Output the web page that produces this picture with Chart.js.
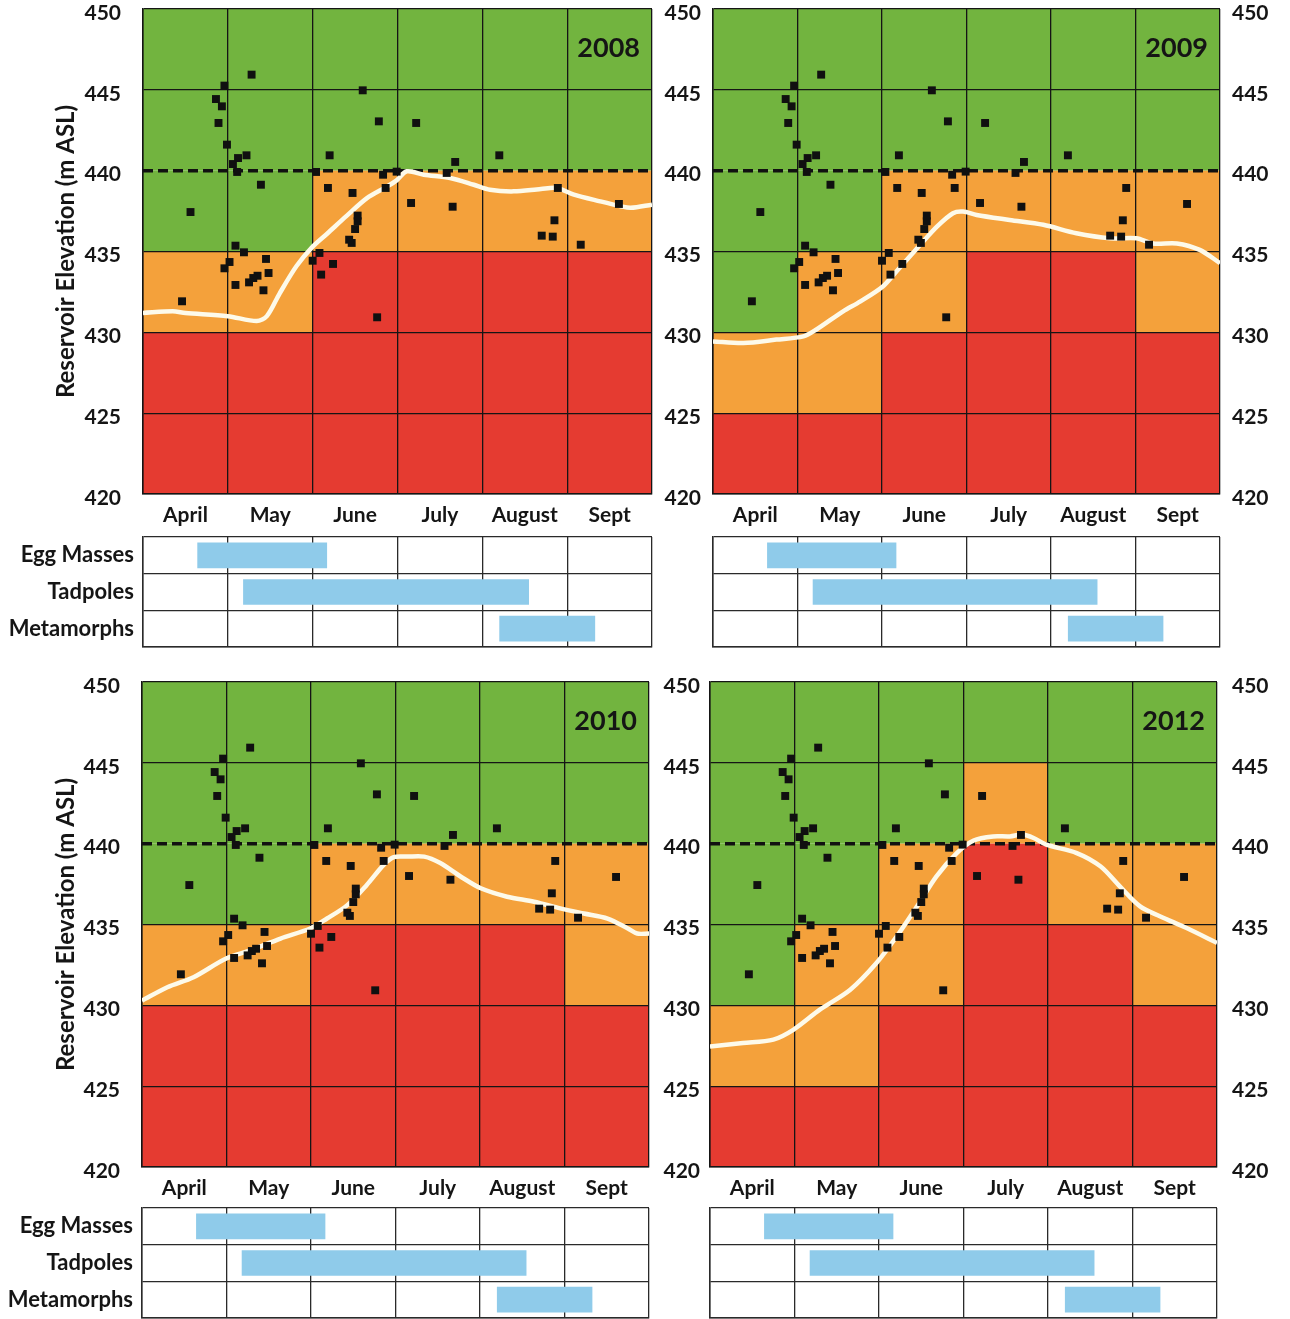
<!DOCTYPE html>
<html>
<head>
<meta charset="utf-8">
<script src="https://cdn.jsdelivr.net/npm/chart.js@4.4.1/dist/chart.umd.min.js"></script>
<style>
  body { margin: 0; background: #fff; width: 1290px; height: 1319px; position: relative; overflow: hidden; }
  canvas { position: absolute; }
</style>
</head>
<body>
<canvas id="p2008" width="660" height="535" style="left:0;top:0"></canvas>
<canvas id="p2009" width="630" height="535" style="left:660px;top:0"></canvas>
<canvas id="t2008" width="660" height="125" style="left:0;top:530px"></canvas>
<canvas id="t2009" width="630" height="125" style="left:660px;top:530px"></canvas>
<canvas id="p2010" width="660" height="535" style="left:0;top:673px"></canvas>
<canvas id="p2012" width="630" height="535" style="left:660px;top:673px"></canvas>
<canvas id="t2010" width="660" height="125" style="left:0;top:1201px"></canvas>
<canvas id="t2012" width="630" height="125" style="left:660px;top:1201px"></canvas>
<script>
// months on the x axis (0 = start of April, 6 = end of September)
const months = ['April', 'May', 'June', 'July', 'August', 'Sept'];
const elevMin = 420;
const elevMax = 450;
const elevStep = 5;
const threshold = 440;

// life stages and when they occur (month position)
const stages = ['Egg Masses', 'Tadpoles', 'Metamorphs'];
const stageStart = [0.64, 1.18, 4.20];
const stageEnd = [2.17, 4.55, 5.33];

// egg mass / breeding site records: month position and elevation
const surveyX = [1.28, 0.96, 0.86, 0.93, 0.89, 0.99, 1.12, 1.22, 1.06, 1.11, 1.39, 0.56,
  1.09, 1.19, 1.45, 1.02, 0.96, 1.48, 1.35, 1.30, 1.25, 1.09, 1.42, 0.46,
  2.59, 2.78, 3.22, 2.20, 4.20, 3.68, 2.04, 2.83, 2.99, 3.58, 2.18, 2.47,
  2.86, 4.89, 3.16, 3.65, 5.61, 2.53, 2.53, 2.50, 4.85, 2.43, 2.46, 4.70,
  4.83, 5.16, 2.08, 2.00, 2.24, 2.10, 2.76];
const surveyY = [445.94, 445.26, 444.43, 443.98, 442.95, 441.61, 440.78, 440.95, 440.41, 439.92, 439.13, 437.44,
  435.36, 434.95, 434.54, 434.35, 433.96, 433.67, 433.50, 433.36, 433.09, 432.93, 432.60, 431.92,
  444.97, 443.05, 442.95, 440.95, 440.95, 440.54, 439.92, 439.75, 439.94, 439.86, 438.93, 438.62,
  438.93, 438.93, 438.00, 437.77, 437.94, 437.22, 436.87, 436.39, 436.93, 435.73, 435.53, 435.98,
  435.92, 435.42, 434.91, 434.43, 434.23, 433.57, 430.93];

// reservoir elevation through the season, per year
const res2008X = [0, 0.35, 0.5, 1.0, 1.34, 1.46, 1.61, 1.81, 2.0, 2.17, 2.4, 2.64, 2.87, 2.99, 3.11, 3.31, 3.62, 3.9, 4.09, 4.37, 4.69, 4.88, 5.08, 5.39, 5.63, 5.75, 6.0];
const res2008Y = [431.2, 431.3, 431.2, 431.0, 430.7, 431.0, 432.4, 434.1, 435.3, 436.1, 437.2, 438.3, 439.0, 439.4, 439.96, 439.75, 439.55, 439.13, 438.82, 438.72, 438.87, 438.93, 438.52, 438.1, 437.8, 437.7, 437.9];
const res2009X = [0, 0.36, 0.75, 1.07, 1.22, 1.54, 1.74, 2.01, 2.17, 2.45, 2.65, 2.84, 2.96, 3.12, 3.51, 3.91, 4.3, 4.7, 5.01, 5.21, 5.49, 5.76, 6.0];
const res2009Y = [429.44, 429.34, 429.55, 429.75, 430.16, 431.3, 431.9, 432.84, 433.77, 435.4, 436.54, 437.37, 437.47, 437.26, 436.95, 436.65, 436.13, 435.82, 435.82, 435.5, 435.5, 435.1, 434.28];
const res2010X = [0, 0.3, 0.61, 0.99, 1.28, 1.64, 1.99, 2.19, 2.43, 2.66, 2.86, 2.98, 3.14, 3.34, 3.53, 3.77, 4.01, 4.32, 4.64, 4.95, 5.23, 5.51, 5.75, 5.86, 6.0];
const res2010Y = [430.29, 431.12, 431.74, 432.88, 433.4, 434.13, 434.75, 435.37, 436.2, 437.45, 438.69, 439.17, 439.2, 439.2, 438.8, 437.97, 437.24, 436.72, 436.41, 436.0, 435.68, 435.37, 434.75, 434.44, 434.44];
const res2012X = [0, 0.39, 0.75, 0.99, 1.3, 1.66, 1.97, 2.21, 2.45, 2.68, 2.92, 3.12, 3.35, 3.55, 3.69, 3.83, 3.98, 4.34, 4.62, 4.85, 5.09, 5.33, 5.64, 6.0];
const res2012Y = [427.46, 427.67, 427.88, 428.5, 429.73, 430.97, 432.62, 434.27, 436.12, 437.98, 439.42, 440.2, 440.45, 440.45, 440.56, 440.35, 439.94, 439.42, 438.6, 437.36, 436.12, 435.5, 434.78, 433.86];

// risk class per month and 5 m band, top band (445-450) first: G = low, O = moderate, R = high
const risk2008 = ['GGGGGG', 'GGGGGG', 'GGOOOO', 'OORRRR', 'RRRRRR', 'RRRRRR'];
const risk2009 = ['GGGGGG', 'GGGGGG', 'GGOOOO', 'GOORRO', 'OORRRR', 'RRRRRR'];
const risk2010 = ['GGGGGG', 'GGGGGG', 'GGOOOO', 'OORRRO', 'RRRRRR', 'RRRRRR'];
const risk2012 = ['GGGGGG', 'GGGOGG', 'GGOROO', 'GOORRO', 'OORRRR', 'RRRRRR'];

const riskColors = { G: '#72b43f', O: '#f4a13b', R: '#e53b31' };
const ink = '#151515';
const fontFamily = 'Lato, "Open Sans", sans-serif';

Chart.defaults.font.family = fontFamily;
Chart.defaults.color = ink;

const halfTicks = [];
for (let i = 0; i <= months.length * 2; i++) halfTicks.push(i / 2);

function toPoints(xs, ys) {
  return xs.map((x, i) => ({ x: x, y: ys[i] }));
}

// fixed axis sizes so every panel lines up; drop the label overhang padding
function fixWidth(w) {
  return (axis) => { axis.width = w; axis.paddingTop = 0; axis.paddingBottom = 0; };
}
function fixHeight(h) {
  return (axis) => { axis.height = h; axis.paddingLeft = 0; axis.paddingRight = 0; };
}

function makePanel(id, year, risk, resX, resY, box) {
  // colored cells go under the grid lines, so draw them before the scales
  const cellPlugin = {
    id: 'riskCells',
    beforeDraw(chart) {
      const ctx = chart.ctx;
      const xs = chart.scales.x;
      const ys = chart.scales.y;
      ctx.save();
      risk.forEach((row, r) => {
        const top = ys.getPixelForValue(elevMax - r * elevStep);
        const bottom = ys.getPixelForValue(elevMax - (r + 1) * elevStep);
        for (let c = 0; c < row.length; c++) {
          const left = xs.getPixelForValue(c);
          const right = xs.getPixelForValue(c + 1);
          ctx.fillStyle = riskColors[row[c]];
          ctx.fillRect(left, top, right - left, bottom - top);
        }
      });
      ctx.restore();
    }
  };
  const yearPlugin = {
    id: 'yearLabel',
    afterDraw(chart) {
      const ctx = chart.ctx;
      const a = chart.chartArea;
      ctx.save();
      ctx.font = 'bold 27px ' + fontFamily;
      ctx.fillStyle = ink;
      ctx.textAlign = 'right';
      ctx.textBaseline = 'middle';
      ctx.fillText(year, a.right - 12, a.top + 39);
      ctx.restore();
    }
  };

  const tickFont = { size: 21, weight: 'bold' };
  const scales = {
    x: {
      type: 'linear', min: 0, max: months.length,
      afterBuildTicks: (axis) => { axis.ticks = halfTicks.map(v => ({ value: v })); },
      afterFit: fixHeight(41),
      grid: {
        drawTicks: false, lineWidth: 1.3,
        color: (c) => (c.tick && Number.isInteger(c.tick.value)) ? ink : 'rgba(0,0,0,0)'
      },
      border: { color: ink, width: 1.5 },
      ticks: {
        autoSkip: false, maxRotation: 0, padding: 9, font: { size: 21, weight: 'bold' }, color: ink,
        callback: (v) => Number.isInteger(v) ? '' : months[Math.floor(v)]
      }
    },
    y: {
      type: 'linear', min: elevMin, max: elevMax,
      afterFit: fixWidth(box.leftWidth),
      grid: {
        drawTicks: false, lineWidth: 1.3,
        // the threshold level gets its own dashed line instead of a grid line
        color: (c) => (c.tick && c.tick.value === threshold) ? 'rgba(0,0,0,0)' : ink
      },
      border: { color: ink, width: 1.5 },
      ticks: { stepSize: elevStep, padding: box.leftPad, labelOffset: 4, font: tickFont, color: ink },
      title: {
        display: !!box.title, text: 'Reservoir Elevation (m ASL)',
        font: { size: 24, weight: 'bold' }, color: ink, padding: { top: 52, bottom: 0 }
      }
    }
  };
  if (box.rightWidth) {
    scales.y2 = {
      type: 'linear', position: 'right', min: elevMin, max: elevMax,
      afterFit: fixWidth(box.rightWidth),
      grid: { display: false, drawTicks: false },
      border: { display: false },
      ticks: { stepSize: elevStep, padding: box.rightPad, labelOffset: 4, font: tickFont, color: ink }
    };
  }

  return new Chart(document.getElementById(id), {
    type: 'scatter',
    data: {
      datasets: [
        {
          label: 'Records',
          data: toPoints(surveyX, surveyY),
          pointStyle: 'rect', pointRadius: 5.6,
          backgroundColor: '#101010', borderColor: '#101010', borderWidth: 0,
          order: 0
        },
        {
          type: 'line', label: 'Reservoir',
          data: toPoints(resX, resY),
          borderColor: '#fdfaea', borderWidth: 4.5, pointRadius: 0, tension: 0.3,
          order: 1
        },
        {
          type: 'line', label: 'Threshold',
          data: [{ x: 0, y: threshold }, { x: months.length, y: threshold }],
          borderColor: '#111', borderWidth: 3.5, borderDash: [10, 5], pointRadius: 0,
          order: 2
        }
      ]
    },
    options: {
      responsive: false,
      animation: false,
      events: [],
      layout: { autoPadding: false, padding: { top: box.top, right: box.right, left: 0, bottom: 0 } },
      plugins: { legend: { display: false }, tooltip: { enabled: false } },
      scales: scales
    },
    plugins: [cellPlugin, yearPlugin]
  });
}

function makeStages(id, box) {
  return new Chart(document.getElementById(id), {
    type: 'bar',
    data: {
      labels: stages,
      datasets: [{
        data: stageStart.map((s, i) => [s, stageEnd[i]]),
        backgroundColor: '#8fcbea',
        barPercentage: 0.7,
        categoryPercentage: 1
      }]
    },
    options: {
      indexAxis: 'y',
      responsive: false,
      animation: false,
      events: [],
      layout: { autoPadding: false, padding: { top: 7, right: box.right, left: 0, bottom: 0 } },
      plugins: { legend: { display: false }, tooltip: { enabled: false } },
      scales: {
        x: {
          type: 'linear', min: 0, max: months.length,
          afterFit: fixHeight(8),
          grid: { drawTicks: false, color: '#2a2a2a', lineWidth: 1.3 },
          border: { color: '#2a2a2a', width: 1.5 },
          ticks: { stepSize: 1, display: false }
        },
        y: {
          afterFit: fixWidth(box.leftWidth),
          grid: { drawTicks: false, offset: true, color: '#2a2a2a', lineWidth: 1.3 },
          border: { color: '#2a2a2a', width: 1.5 },
          ticks: { display: box.labels, padding: 9, font: { size: 22, weight: 'bold' }, color: ink }
        }
      }
    }
  });
}

const leftBox = { top: 9, right: 8, leftWidth: 143, leftPad: 22, title: true };
const rightBox = { top: 9, right: 0, leftWidth: 53, leftPad: 12, rightWidth: 70, rightPad: 12 };
const leftBoxLow = { top: 9, right: 11, leftWidth: 142, leftPad: 22, title: true };
const rightBoxLow = { top: 9, right: 0, leftWidth: 50, leftPad: 10, rightWidth: 73, rightPad: 15 };

makePanel('p2008', '2008', risk2008, res2008X, res2008Y, leftBox);
makePanel('p2009', '2009', risk2009, res2009X, res2009Y, rightBox);
makePanel('p2010', '2010', risk2010, res2010X, res2010Y, leftBoxLow);
makePanel('p2012', '2012', risk2012, res2012X, res2012Y, rightBoxLow);

makeStages('t2008', { right: 8, leftWidth: 143, labels: true });
makeStages('t2009', { right: 70, leftWidth: 53, labels: false });
makeStages('t2010', { right: 11, leftWidth: 142, labels: true });
makeStages('t2012', { right: 73, leftWidth: 50, labels: false });
</script>
</body>
</html>
